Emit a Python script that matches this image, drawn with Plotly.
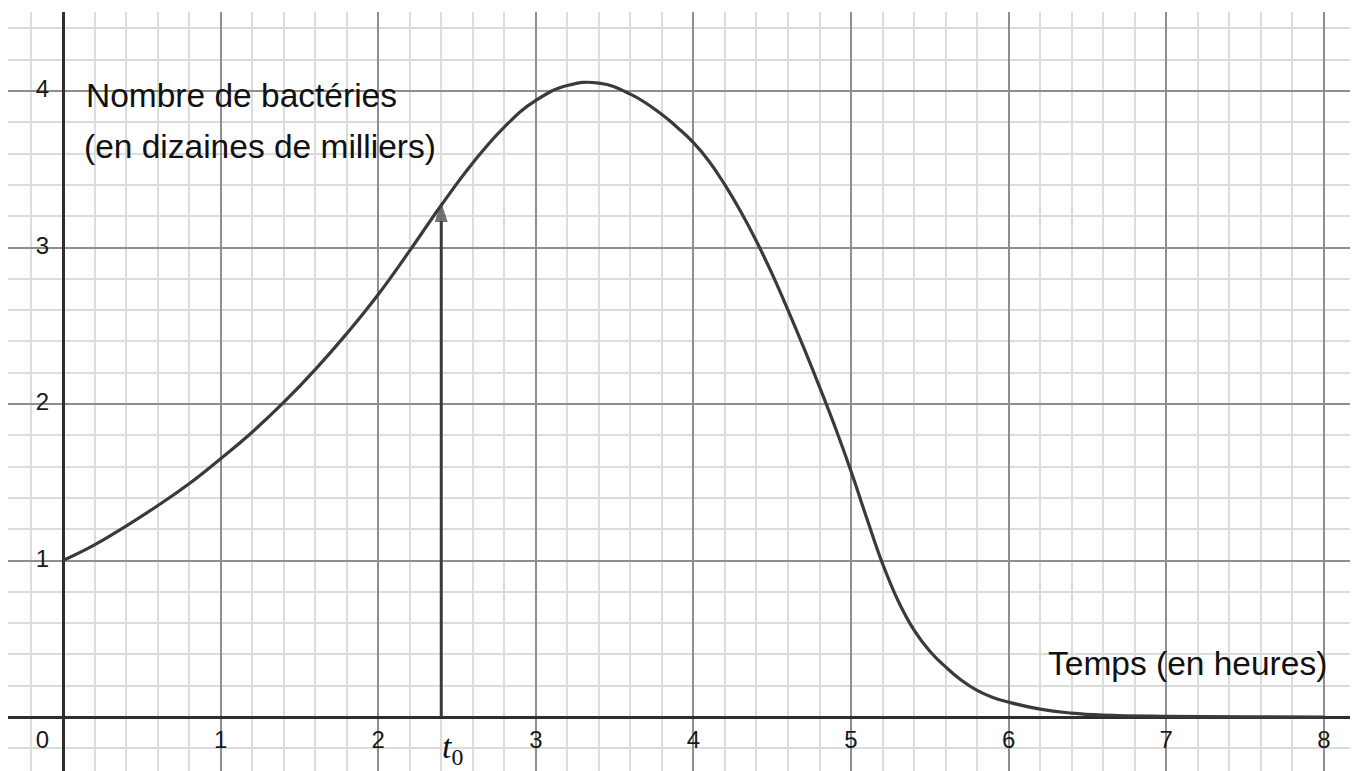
import plotly.graph_objects as go

# ---- data ----
time_h = [0.0, 0.2, 0.4, 0.6, 0.8, 1.0, 1.2, 1.4, 1.6, 1.8, 2.0, 2.2, 2.4, 2.6, 2.8,
          3.0, 3.2, 3.4, 3.6, 3.8, 3.9, 4.0, 4.1, 4.2, 4.3, 4.4, 4.5, 4.6, 4.7, 4.8,
          4.9, 5.0, 5.1, 5.2, 5.3, 5.4, 5.5, 5.6, 5.7, 5.8, 5.9, 6.0, 6.2, 6.4, 6.6,
          7.0, 7.5, 8.0]
bacteria = [1.00, 1.10, 1.22, 1.35, 1.49, 1.65, 1.82, 2.01, 2.22, 2.45, 2.70, 2.98, 3.27, 3.54, 3.77,
            3.94, 4.035, 4.05, 3.98, 3.85, 3.765, 3.67, 3.55, 3.40, 3.23, 3.04, 2.83, 2.60, 2.36, 2.11,
            1.85, 1.57, 1.27, 0.98, 0.74, 0.555, 0.42, 0.32, 0.235, 0.17, 0.125, 0.095, 0.05, 0.025, 0.012,
            0.004, 0.001, 0.0]

t0 = 2.40
t0_value = 3.29

x_tick_vals = [1, 2, 3, 4, 5, 6, 7, 8]
x_tick_text = ["1", "2", "3", "4", "5", "6", "7", "8"]
y_tick_vals = [1, 2, 3, 4]
y_tick_text = ["1", "2", "3", "4"]
origin_label = "0"

y_title = ["Nombre de bactéries", "(en dizaines de milliers)"]
x_title = "Temps (en heures)"

X_RANGE = [-0.349, 8.166]
Y_RANGE = [-0.345, 4.505]

fig = go.Figure()

# curve
fig.add_trace(go.Scatter(
    x=time_h, y=bacteria, mode="lines",
    line=dict(color="#3a3a3a", width=3.2, shape="spline", smoothing=1.3),
    hoverinfo="skip", showlegend=False,
))

# arrow at t0
fig.add_trace(go.Scatter(
    x=[t0, t0], y=[0, t0_value], mode="lines+markers",
    line=dict(color="#3a3a3a", width=3),
    marker=dict(symbol=["circle", "arrow"], size=[1, 21], color="#3a3a3a",
                angleref="previous", line=dict(width=0)),
    hoverinfo="skip", showlegend=False,
))

tick_font = dict(family="Liberation Sans, Arial, sans-serif", size=24, color="#1a1a1a")

# x tick labels
fig.add_trace(go.Scatter(
    x=x_tick_vals, y=[-0.16] * len(x_tick_vals), mode="text",
    text=x_tick_text, textfont=tick_font, textposition="middle center",
    hoverinfo="skip", showlegend=False,
))
# y tick labels
fig.add_trace(go.Scatter(
    x=[-0.13] * len(y_tick_vals), y=y_tick_vals, mode="text",
    text=y_tick_text, textfont=tick_font, textposition="middle center",
    hoverinfo="skip", showlegend=False,
))
# origin label
fig.add_trace(go.Scatter(
    x=[-0.13], y=[-0.16], mode="text", text=[origin_label], textfont=tick_font,
    textposition="middle center", hoverinfo="skip", showlegend=False,
))

label_font = dict(family="Liberation Sans, Arial, sans-serif", size=33.5, color="#111111")

fig.add_annotation(x=0.135, y=3.97, text=y_title[0], showarrow=False,
                   xanchor="left", yanchor="middle", font=label_font)
fig.add_annotation(x=0.12, y=3.645, text=y_title[1], showarrow=False,
                   xanchor="left", yanchor="middle", font=label_font)
fig.add_annotation(x=8.035, y=0.345, text=x_title, showarrow=False,
                   xanchor="right", yanchor="middle", font=label_font)
fig.add_annotation(x=t0 + 0.07, y=-0.205, text="<i>t</i><sub>0</sub>", showarrow=False,
                   xanchor="center", yanchor="middle",
                   font=dict(family="Liberation Serif, DejaVu Serif, serif", size=34, color="#111111"))

axis_common = dict(
    showgrid=True, gridcolor="#8e8e8e", gridwidth=1.8,
    dtick=1, tick0=0,
    minor=dict(dtick=0.2, tick0=0, showgrid=True, gridcolor="#dcdcdc", gridwidth=1.8),
    zeroline=True, zerolinecolor="#2e2e2e", zerolinewidth=2.8,
    showticklabels=False, ticks="", showline=False, fixedrange=True,
)

fig.update_xaxes(range=X_RANGE, **axis_common)
fig.update_yaxes(range=Y_RANGE, **axis_common)

fig.update_layout(
    width=1354, height=771,
    margin=dict(l=8, r=4, t=12, b=0),
    paper_bgcolor="white", plot_bgcolor="white",
    showlegend=False,
)

fig.write_html(
    "out.html",
    config={"displayModeBar": False},
    post_script="document.body.style.margin='0px';document.body.style.overflow='hidden';",
)
